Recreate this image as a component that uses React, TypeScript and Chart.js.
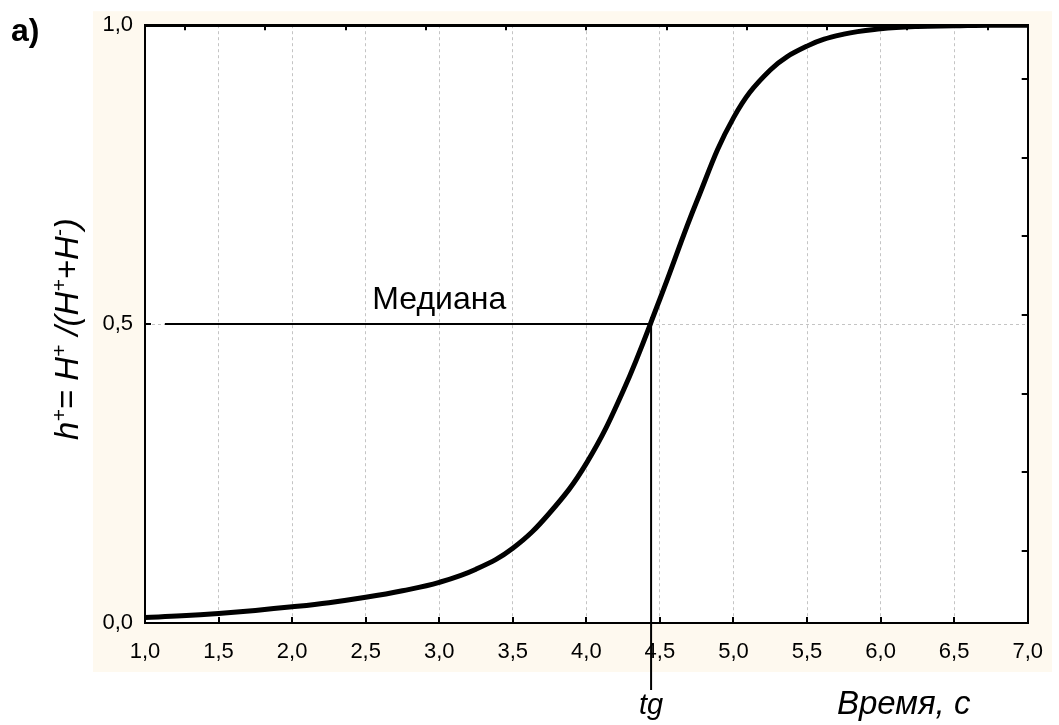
import { useEffect, useRef } from 'react';
import { Chart, registerables } from 'chart.js';

Chart.register(...registerables);

// ---- data ----
const timeValues = [1.0, 1.25, 1.5, 1.75, 2.0, 2.25, 2.5, 2.75, 3.0, 3.25, 3.5, 3.75, 4.0, 4.25, 4.5, 4.75, 5.0, 5.25, 5.5, 5.75, 6.0, 6.25, 6.5, 6.75, 7.0];
const hPlusValues = [0.009, 0.012, 0.016, 0.021, 0.027, 0.034, 0.043, 0.054, 0.068, 0.09, 0.125, 0.184, 0.267, 0.388, 0.542, 0.705, 0.845, 0.925, 0.965, 0.985, 0.994, 0.998, 0.999, 1.0, 1.0];

const medianLineX = [1.135, 4.44];
const medianLineY = [0.5, 0.5];
const tgLineX = [4.44, 4.44];
const tgLineY = [0.512, -0.112];

const xTickValues = [1.0, 1.5, 2.0, 2.5, 3.0, 3.5, 4.0, 4.5, 5.0, 5.5, 6.0, 6.5, 7.0];
const yTickValues = [0.0, 0.5, 1.0];
const topTickValues = [1.273, 1.818, 2.364, 2.909, 3.455, 4.0, 4.545, 5.091, 5.636, 6.182, 6.727];
const rightTickValues = [0.12, 0.252, 0.383, 0.515, 0.647, 0.778, 0.91];

const panelLabel = 'a)';
const medianLabel = 'Медиана';
const tgLabel = 'tg';
const xTitle = 'Время, с';
const medianLabelPos = [3.0, 0.525];

const FONT = '"Liberation Sans", Arial, sans-serif';
const fmt = (v: number) => v.toFixed(1).replace('.', ',');

const bgPlugin = {
  id: 'bgPlugin',
  beforeDraw(chart: any) {
    const { ctx, chartArea: a } = chart;
    ctx.save();
    ctx.fillStyle = '#ffffff';
    ctx.fillRect(0, 0, chart.width, chart.height);
    ctx.fillStyle = '#fef9ef';
    ctx.fillRect(a.left - 52, a.top - 14, 1052 - (a.left - 52), a.bottom + 49 - (a.top - 14));
    ctx.fillStyle = '#ffffff';
    ctx.fillRect(a.left, a.top, a.right - a.left, a.bottom - a.top);
    ctx.restore();
  },
};

const innerTicks = {
  id: 'innerTicks',
  afterDatasetsDraw(chart: any) {
    const { ctx, chartArea: a } = chart;
    const sx = chart.scales.x, sy = chart.scales.y, sx2 = chart.scales.x2, sy2 = chart.scales.y2;
    ctx.save();
    ctx.strokeStyle = '#000';
    ctx.lineWidth = 2;
    ctx.beginPath();
    sx.ticks.forEach((t: any) => { const p = Math.round(sx.getPixelForValue(t.value)); ctx.moveTo(p, a.bottom); ctx.lineTo(p, a.bottom - 6); });
    sx2.ticks.forEach((t: any) => { const p = Math.round(sx2.getPixelForValue(t.value)); ctx.moveTo(p, a.top); ctx.lineTo(p, a.top + 5); });
    sy.ticks.forEach((t: any) => { const p = Math.round(sy.getPixelForValue(t.value)); ctx.moveTo(a.left, p); ctx.lineTo(a.left + 6, p); });
    sy2.ticks.forEach((t: any) => { const p = Math.round(sy2.getPixelForValue(t.value)); ctx.moveTo(a.right, p); ctx.lineTo(a.right - 6, p); });
    ctx.stroke();
    ctx.restore();
  },
};

const textPlugin = {
  id: 'textPlugin',
  afterDraw(chart: any) {
    const { ctx, chartArea: a } = chart;
    const sx = chart.scales.x, sy = chart.scales.y;
    ctx.save();
    ctx.fillStyle = '#000';
    // panel label
    ctx.font = `bold 32px ${FONT}`;
    ctx.textAlign = 'left';
    ctx.textBaseline = 'alphabetic';
    ctx.fillText(panelLabel, 11, 41);
    // median label
    ctx.font = `32px ${FONT}`;
    ctx.textAlign = 'center';
    ctx.fillText(medianLabel, sx.getPixelForValue(medianLabelPos[0]), sy.getPixelForValue(medianLabelPos[1]));
    // tg
    ctx.font = `italic 29px ${FONT}`;
    ctx.fillText(tgLabel, sx.getPixelForValue(tgLineX[0]), 714);
    // x title
    ctx.textAlign = 'left';
    ctx.font = `italic 33px ${FONT}`;
    ctx.fillText(xTitle, 837, 714);
    // y title with superscripts
    ctx.translate(78, (a.top + a.bottom) / 2 + 5);
    ctx.rotate(-Math.PI / 2);
    const segs: [string, boolean][] = [
      ['h', false], ['+', true], ['= H', false], ['+', true], [' /(H', false], ['+', true], ['+H', false], ['-', true], [')', false],
    ];
    const mainFont = `italic 33px ${FONT}`;
    const supFont = `italic 21px ${FONT}`;
    let total = 0;
    segs.forEach(([s, sup]) => { ctx.font = sup ? supFont : mainFont; total += ctx.measureText(s).width; });
    let x = -total / 2;
    ctx.textAlign = 'left';
    segs.forEach(([s, sup]) => {
      ctx.font = sup ? supFont : mainFont;
      ctx.fillText(s, x, sup ? -12 : 0);
      x += ctx.measureText(s).width;
    });
    ctx.restore();
  },
};

export default function App() {
  const ref = useRef<HTMLCanvasElement | null>(null);
  useEffect(() => {
    if (!ref.current) return;
    const chart = new Chart(ref.current, {
      type: 'line',
      data: {
        datasets: [
          {
            label: 'h+',
            data: timeValues.map((t, i) => ({ x: t, y: hPlusValues[i] })),
            borderColor: '#000',
            borderWidth: 5,
            pointRadius: 0,
            tension: 0.4,
            fill: false,
          },
          {
            label: 'median',
            data: medianLineX.map((t, i) => ({ x: t, y: medianLineY[i] })),
            borderColor: '#000',
            borderWidth: 2,
            pointRadius: 0,
            fill: false,
          },
          {
            label: 'tg',
            data: tgLineX.map((t, i) => ({ x: t, y: tgLineY[i] })),
            borderColor: '#000',
            borderWidth: 2,
            pointRadius: 0,
            fill: false,
            clip: false,
          },
        ],
      } as any,
      options: {
        animation: false,
        responsive: false,
        maintainAspectRatio: false,
        layout: { padding: { left: 0, top: 23, right: 24, bottom: 0 } },
        plugins: { legend: { display: false }, tooltip: { enabled: false }, title: { display: false } },
        scales: {
          x: {
            type: 'linear',
            position: 'bottom',
            min: 1,
            max: 7,
            afterBuildTicks: (s: any) => { s.ticks = xTickValues.map((v) => ({ value: v })); },
            afterFit: (s: any) => { s.height = 102; },
            ticks: { callback: (v: any) => fmt(Number(v)), font: { family: FONT, size: 22 }, color: '#000', padding: 16, maxRotation: 0, autoSkip: false },
            grid: { color: '#c4c4c4', lineWidth: 1, drawTicks: false },
            border: { color: '#000', width: 2, dash: [3, 3] },
          },
          y: {
            type: 'linear',
            position: 'left',
            min: 0,
            max: 1,
            afterBuildTicks: (s: any) => { s.ticks = yTickValues.map((v) => ({ value: v })); },
            afterFit: (s: any) => { s.width = 145; },
            ticks: { callback: (v: any) => fmt(Number(v)), font: { family: FONT, size: 22 }, color: '#000', padding: 12 },
            grid: { color: (c: any) => (c.tick && c.tick.value === 0.5 ? '#c4c4c4' : 'rgba(0,0,0,0)'), lineWidth: 1, drawTicks: false },
            border: { color: '#000', width: 2, dash: [3, 3] },
          },
          x2: {
            type: 'linear',
            position: 'top',
            min: 1,
            max: 7,
            afterBuildTicks: (s: any) => { s.ticks = topTickValues.map((v) => ({ value: v })); },
            afterFit: (s: any) => { s.height = 0; },
            ticks: { display: false },
            grid: { display: false, drawTicks: false },
            border: { color: '#000', width: 3 },
          },
          y2: {
            type: 'linear',
            position: 'right',
            min: 0,
            max: 1,
            afterBuildTicks: (s: any) => { s.ticks = rightTickValues.map((v) => ({ value: v })); },
            afterFit: (s: any) => { s.width = 0; },
            ticks: { display: false },
            grid: { display: false, drawTicks: false },
            border: { color: '#000', width: 2 },
          },
        },
      } as any,
      plugins: [bgPlugin, innerTicks, textPlugin],
    });
    return () => chart.destroy();
  }, []);
  return (
    <div style={{ position: 'fixed', left: 0, top: 0, width: 1059, height: 725 }}>
      <canvas ref={ref} width={1059} height={725} style={{ display: 'block' }} />
    </div>
  );
}
